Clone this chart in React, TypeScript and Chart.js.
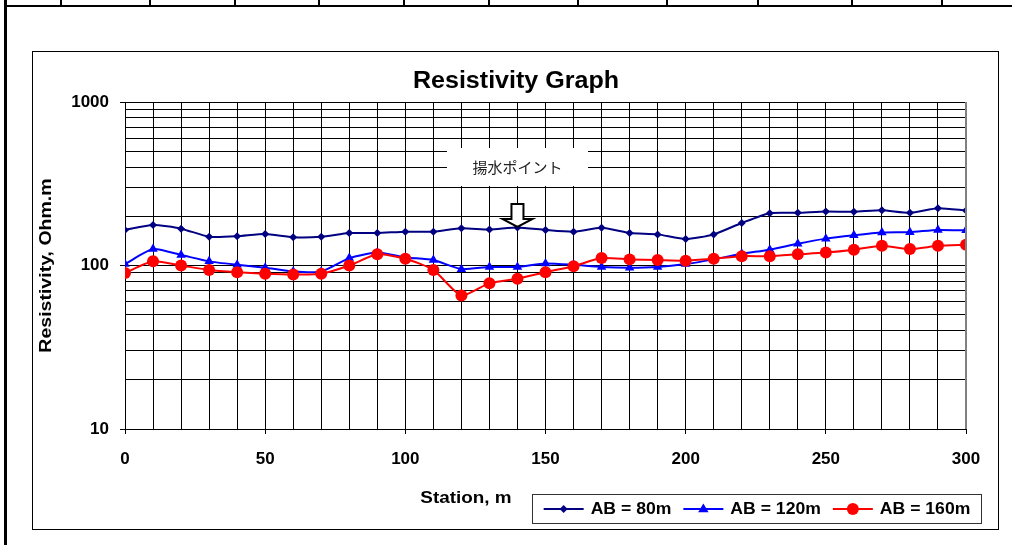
import { useEffect, useRef } from 'react';
import { Chart, registerables } from 'chart.js';

Chart.register(...registerables);

// Survey stations along the profile (m)
const stations = [0, 10, 20, 30, 40, 50, 60, 70, 80, 90, 100, 110, 120, 130, 140, 150, 160, 170, 180, 190, 200, 210, 220, 230, 240, 250, 260, 270, 280, 290, 300];

// Apparent resistivity (Ohm.m) for each electrode spacing
const ab80 = [165, 177, 168, 150, 151, 156, 149, 150, 158, 158, 161, 161, 169, 166, 171, 165, 161, 170, 158, 155, 145, 155, 182, 209, 210, 214, 213, 218, 210, 224, 217];
const ab120 = [102, 126, 116, 106, 101, 97, 92, 92, 111, 120, 112, 108, 95, 98, 98, 103, 101, 98, 97, 98, 102, 109, 118, 125, 136, 146, 153, 159, 160, 165, 164];
const ab160 = [90, 106, 100, 94, 91, 89, 88, 89, 100, 117, 110, 94, 65.5, 78, 83, 91, 99, 111, 109, 108, 107, 110, 114, 114, 117, 120, 125, 132, 126, 132, 134];

const seriesNames = ['AB = 80m', 'AB = 120m', 'AB = 160m'];

// Axis ticks
const yGridValues = [10, 20, 30, 40, 50, 60, 70, 80, 90, 100, 200, 300, 400, 500, 600, 700, 800, 900, 1000];
const yLabelValues = [10, 100, 1000];
const xLabelValues = [0, 50, 100, 150, 200, 250, 300];

const chartTitle = 'Resistivity Graph';
const xTitle = 'Station, m';
const yTitle = 'Resistivity, Ohm.m';
const pumpStation = 140;
const pumpLabel = '揚水ポイント';

const FONT = '"Liberation Sans", Arial, sans-serif';
const W = 1012;
const H = 545;

// column rules of the table row above the chart
const PAGE_COLS = [60, 149, 234, 318, 403, 488, 577, 666, 757, 851, 941];

function drawMarker(ctx: CanvasRenderingContext2D, style: string, x: number, y: number, r: number, color: string) {
  ctx.fillStyle = color;
  ctx.beginPath();
  if (style === 'rectRot') {
    ctx.moveTo(x, y - r);
    ctx.lineTo(x + r, y);
    ctx.lineTo(x, y + r);
    ctx.lineTo(x - r, y);
  } else if (style === 'triangle') {
    ctx.moveTo(x, y - r);
    ctx.lineTo(x + r * 0.95, y + r * 0.6);
    ctx.lineTo(x - r * 0.95, y + r * 0.6);
  } else {
    ctx.arc(x, y, r, 0, Math.PI * 2);
  }
  ctx.closePath();
  ctx.fill();
}

// text drawn with a horizontal stretch factor along its baseline
function stretchedText(ctx: CanvasRenderingContext2D, text: string, x: number, y: number, sx: number, rot = 0) {
  ctx.save();
  ctx.translate(x, y);
  if (rot) ctx.rotate(rot);
  ctx.scale(sx, 1);
  ctx.fillText(text, 0, 0);
  ctx.restore();
}

const decor = {
  id: 'decor',
  beforeDraw(chart: any) {
    const ctx: CanvasRenderingContext2D = chart.ctx;
    ctx.save();
    ctx.fillStyle = '#fff';
    ctx.fillRect(0, 0, chart.width, chart.height);
    ctx.fillStyle = '#000';
    ctx.fillRect(5, 5, chart.width - 5, 2);
    ctx.fillRect(4, 0, 3, chart.height);
    for (const x of PAGE_COLS) ctx.fillRect(x, 0, 2, 6);
    // chart frame
    ctx.strokeStyle = '#000';
    ctx.lineWidth = 1;
    ctx.strokeRect(32.5, 51.5, 966, 478);
    ctx.restore();
  },
  afterDraw(chart: any) {
    const ctx: CanvasRenderingContext2D = chart.ctx;
    const area = chart.chartArea;
    const xs = chart.scales.x;
    const ys = chart.scales.y;
    ctx.save();

    // plot area right edge
    ctx.strokeStyle = '#808080';
    ctx.lineWidth = 2;
    ctx.beginPath();
    ctx.moveTo(area.right, area.top);
    ctx.lineTo(area.right, area.bottom);
    ctx.stroke();

    // title
    ctx.fillStyle = '#000';
    ctx.textAlign = 'center';
    ctx.textBaseline = 'middle';
    ctx.font = `bold 23px ${FONT}`;
    stretchedText(ctx, chartTitle, 516, 82, 1.09);

    // axis titles
    ctx.font = `bold 16px ${FONT}`;
    stretchedText(ctx, xTitle, 466, 499, 1.18);
    stretchedText(ctx, yTitle, 47, (area.top + area.bottom) / 2, 1.22, -Math.PI / 2);

    // pumping point label and arrow
    const idx = stations.indexOf(pumpStation);
    const px = xs.getPixelForValue(pumpStation);
    const py = ys.getPixelForValue(ab80[idx]);
    ctx.fillStyle = '#fff';
    ctx.fillRect(px - 70.5, 148, 141, 38);
    ctx.fillStyle = '#222';
    ctx.font = '15px "Noto Sans CJK JP", sans-serif';
    ctx.fillText(pumpLabel, px, 167);

    const tip = py - 0.5;
    ctx.beginPath();
    ctx.moveTo(px - 6, tip - 23);
    ctx.lineTo(px + 6, tip - 23);
    ctx.lineTo(px + 6, tip - 8);
    ctx.lineTo(px + 15, tip - 8);
    ctx.lineTo(px, tip);
    ctx.lineTo(px - 15, tip - 8);
    ctx.lineTo(px - 6, tip - 8);
    ctx.closePath();
    ctx.fillStyle = '#fff';
    ctx.fill();
    ctx.strokeStyle = '#000';
    ctx.lineWidth = 2;
    ctx.lineJoin = 'miter';
    ctx.stroke();

    // legend
    const box = { x: 532.5, y: 494.5, w: 449, h: 29 };
    ctx.fillStyle = '#fff';
    ctx.fillRect(box.x, box.y, box.w, box.h);
    ctx.strokeStyle = '#333';
    ctx.lineWidth = 1;
    ctx.strokeRect(box.x, box.y, box.w, box.h);
    ctx.font = `bold 16px ${FONT}`;
    ctx.textAlign = 'left';
    const sx = 1.1;
    const lineLen = 40;
    const gapText = 7;
    const gapItem = 12;
    const widths = seriesNames.map((n) => ctx.measureText(n).width * sx);
    const total = widths.reduce((a, b) => a + b, 0) + seriesNames.length * (lineLen + gapText) + gapItem * (seriesNames.length - 1);
    let cx = box.x + (box.w - total) / 2;
    const cy = box.y + box.h / 2;
    const ordered = seriesNames.map((n) => chart.data.datasets.find((d: any) => d.label === n));
    ordered.forEach((ds: any, i: number) => {
      ctx.strokeStyle = ds.borderColor;
      ctx.lineWidth = 2;
      ctx.beginPath();
      ctx.moveTo(cx, cy);
      ctx.lineTo(cx + lineLen, cy);
      ctx.stroke();
      drawMarker(ctx, ds.pointStyle, cx + lineLen / 2, cy, ds.pointRadius, ds.borderColor);
      ctx.fillStyle = '#000';
      stretchedText(ctx, ds.label, cx + lineLen + gapText, cy + 1, sx);
      cx += lineLen + gapText + widths[i] + gapItem;
    });

    ctx.restore();
  },
};

const toPoints = (vals: number[]) => stations.map((s, i) => ({ x: s, y: vals[i] }));

export default function App() {
  const ref = useRef<HTMLCanvasElement | null>(null);

  useEffect(() => {
    if (!ref.current) return;
    const chart = new Chart(ref.current, {
      type: 'line',
      data: {
        datasets: [
          {
            label: seriesNames[2],
            data: toPoints(ab160),
            borderColor: '#ff0000',
            backgroundColor: '#ff0000',
            borderWidth: 2,
            pointStyle: 'circle',
            pointRadius: 6,
            pointBorderWidth: 0,
            tension: 0.2,
            order: 0,
          },
          {
            label: seriesNames[1],
            data: toPoints(ab120),
            borderColor: '#0000ff',
            backgroundColor: '#0000ff',
            borderWidth: 2,
            pointStyle: 'triangle',
            pointRadius: 5.5,
            pointBorderWidth: 0,
            tension: 0.2,
            order: 1,
          },
          {
            label: seriesNames[0],
            data: toPoints(ab80),
            borderColor: '#000080',
            backgroundColor: '#000080',
            borderWidth: 2,
            pointStyle: 'rectRot',
            pointRadius: 4,
            pointBorderWidth: 0,
            tension: 0.2,
            order: 2,
          },
        ],
      },
      options: {
        responsive: false,
        animation: false,
        events: [],
        layout: { padding: { left: 0, right: W - 966, top: 102, bottom: 76 } },
        plugins: { legend: { display: false }, title: { display: false }, tooltip: { enabled: false } },
        scales: {
          x: {
            type: 'linear',
            min: 0,
            max: 300,
            afterFit: (s: any) => { s.height = 40; },
            ticks: {
              stepSize: 10,
              autoSkip: false,
              maxRotation: 0,
              padding: 15,
              color: '#000',
              font: { family: FONT, size: 17, weight: 'bold' },
              callback: (v: any) => (xLabelValues.includes(Number(v)) ? String(v) : ''),
            },
            grid: {
              color: '#000',
              lineWidth: 1,
              tickLength: 5,
              tickColor: (c: any) => (c.tick && xLabelValues.includes(c.tick.value) ? '#000' : 'rgba(0,0,0,0)'),
            },
            border: { display: true, color: '#000', width: 1 },
          },
          y: {
            type: 'logarithmic',
            min: 10,
            max: 1000,
            afterFit: (s: any) => { s.width = 125; },
            afterBuildTicks: (s: any) => { s.ticks = yGridValues.map((v) => ({ value: v })); },
            ticks: {
              autoSkip: false,
              padding: 11,
              color: '#000',
              font: { family: FONT, size: 17, weight: 'bold' },
              callback: (v: any) => (yLabelValues.includes(Number(v)) ? String(v) : ''),
            },
            grid: {
              color: '#000',
              lineWidth: 1,
              tickLength: 5,
              tickColor: (c: any) => (c.tick && yLabelValues.includes(c.tick.value) ? '#000' : 'rgba(0,0,0,0)'),
            },
            border: { display: true, color: '#000', width: 1 },
          },
        },
      },
      plugins: [decor],
    } as any);
    return () => chart.destroy();
  }, []);

  return (
    <div style={{ position: 'fixed', left: 0, top: 0, width: W, height: H, background: '#fff' }}>
      <canvas ref={ref} width={W} height={H} style={{ display: 'block', width: W, height: H }} />
    </div>
  );
}
